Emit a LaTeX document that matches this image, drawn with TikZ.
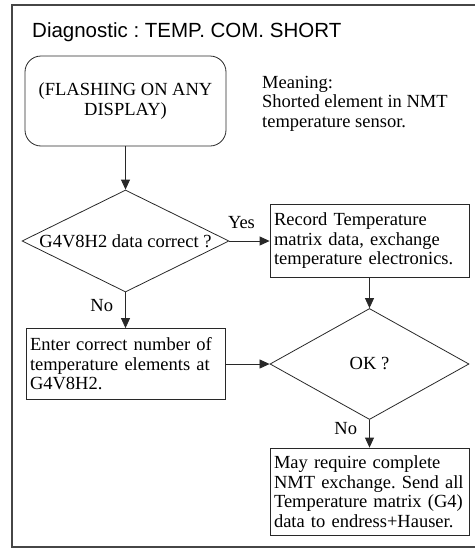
\documentclass[tikz,border=0pt]{standalone}
\usepackage{fontspec}
\setmainfont{Liberation Serif}
\setsansfont{Liberation Sans}
\usetikzlibrary{arrows.meta, positioning, shapes.geometric}
\definecolor{linegray}{RGB}{40,40,40}
\definecolor{framegray}{RGB}{70,70,70}
\frenchspacing

\begin{document}
\begin{tikzpicture}[x=1pt, y=-1pt,
  font=\fontsize{18.5}{19.5}\selectfont, linegray,
  box/.style={rectangle, draw, line width=0.8pt, align=left,
              text width=191pt, inner xsep=4pt, inner ysep=2pt, text=black},
  start/.style={rectangle, rounded corners=16pt, draw, line width=0.8pt, align=center,
                minimum width=201pt, minimum height=90pt, text=black},
  decide/.style={diamond, draw, line width=0.8pt, inner sep=0pt, aspect=2, text=black},
  lbl/.style={inner sep=0pt, text=black},
  ar/.style={-{Triangle[length=10pt, width=9pt]}, line width=0.8pt}]
\useasboundingbox (0,0) rectangle (475,549);
\draw[framegray, line width=1.4pt] (475,5) -- (12,5) -- (12,547) -- (475,547);
\node[lbl, anchor=base west, font=\sffamily\fontsize{20.5}{24}\selectfont] (title) at (32,37)
  {Diagnostic : TEMP. COM. SHORT};
\node[start] (flash) at (125.5,101) {(FLASHING ON ANY\\DISPLAY)};
\node[lbl, align=left, anchor=north west] (meaning) at (262,76)
  {Meaning:\\Shorted element in NMT\\temperature sensor.};
\node[decide, minimum width=207pt, minimum height=102pt] (chk) at (125.5,241) {G4V8H2 data correct ?};
\node[box, minimum height=73pt] (rec) at (369.5,241) {Record Temperature\\matrix data, exchange\\temperature electronics.};
\node[box, minimum height=71pt] (enter) at (125.5,364) {Enter correct number of\\temperature elements at\\G4V8H2.};
\node[decide, minimum width=199pt, minimum height=111pt] (ok) at (369.5,364) {OK ?};
\node[box, minimum height=87pt] (send) at (369.5,491.5) {May require complete\\NMT exchange. Send all\\Temperature matrix (G4)\\data to endress+Hauser.};
% connectors
\draw[ar] (flash) -- (chk);
\draw[ar] (chk) -- node[lbl, pos=0.3, above=12pt] (yes) {Yes} (rec);
\draw[ar] (chk) -- node[lbl, pos=0.36, left=12pt] (no1) {No} (enter);
\draw[ar] (enter) -- (ok);
\draw[ar] (rec) -- (ok);
\draw[ar] (ok) -- node[lbl, pos=0.3, left=12pt] (no2) {No} (send);
\end{tikzpicture}
\end{document}
